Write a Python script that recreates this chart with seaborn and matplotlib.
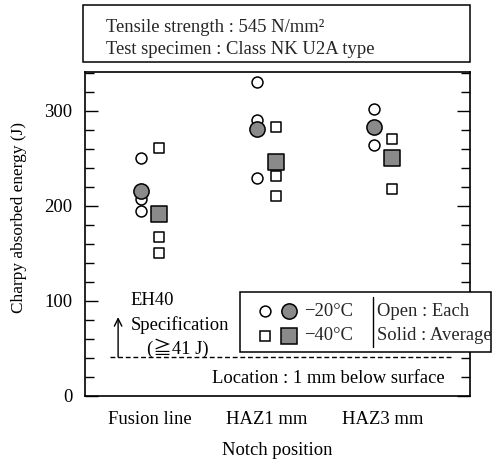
import pandas as pd
import seaborn as sns
import matplotlib.pyplot as plt
from matplotlib.lines import Line2D
from matplotlib.patches import Rectangle
from matplotlib.ticker import MultipleLocator

categories = ["Fusion line", "HAZ1 mm", "HAZ3 mm"]
each_m20 = [[251, 207, 195], [330, 291, 229], [302, 264]]
each_m40 = [[261, 167, 150], [283, 232, 210], [271, 218]]
avg_m20 = [216, 281, 283]
avg_m40 = [192, 246, 250]
spec_min = 41

rows = []
for i, cat in enumerate(categories):
    for v in each_m20[i]:
        rows.append({"pos": i - 0.08, "energy": v, "temp": "-20", "kind": "each"})
    for v in each_m40[i]:
        rows.append({"pos": i + 0.08, "energy": v, "temp": "-40", "kind": "each"})
    rows.append({"pos": i - 0.08, "energy": avg_m20[i], "temp": "-20", "kind": "avg"})
    rows.append({"pos": i + 0.08, "energy": avg_m40[i], "temp": "-40", "kind": "avg"})
df = pd.DataFrame(rows)

sns.set_theme(style="white")
plt.rcParams['font.family'] = ['Liberation Serif', 'DejaVu Serif', 'Noto Sans CJK JP']
plt.rcParams['font.size'] = 13.4

W, H = 492, 459
fig = plt.figure(figsize=(W / 100, H / 100), dpi=100)
ax = fig.add_axes([85 / W, 1 - 396 / H, 385 / W, 324 / H])

gray = '#8a8a8a'
styles = [
    ("-20", "each", 'o', 62, 'white'),
    ("-40", "each", 's', 56, 'white'),
    ("-20", "avg", 'o', 120, gray),
    ("-40", "avg", 's', 118, gray),
]
for z, (t, k, m, s, fc) in enumerate(styles):
    sub = df[(df.temp == t) & (df.kind == k)]
    sns.scatterplot(data=sub, x="pos", y="energy", marker=m, s=s, color=fc,
                    edgecolor='black', linewidth=1.1, ax=ax, zorder=3 + z, legend=False)

ax.set_xlim(-0.558, 2.747)
ax.set_ylim(0, 341)
ax.set_xticks(range(len(categories)))
ax.set_xticklabels(categories)
ax.yaxis.set_major_locator(MultipleLocator(100))
ax.yaxis.set_minor_locator(MultipleLocator(20))
ax.tick_params(axis='y', which='both', direction='in', left=True, right=True,
               colors='black', labelsize=13.4, pad=9)
ax.tick_params(axis='y', which='major', length=9.5, width=1)
ax.tick_params(axis='y', which='minor', length=6.5, width=1)
ax.tick_params(axis='x', bottom=False, labelsize=13.4, pad=5, colors='black')
for sp in ax.spines.values():
    sp.set_color('black')
    sp.set_linewidth(1.2)

ax.set_xlabel("Notch position", fontsize=13.4, labelpad=10, color='black')
ax.set_ylabel("Charpy absorbed energy (J)", fontsize=12.4, color='black')
ax.yaxis.set_label_coords(-0.15, 0.552)

# specification line
ax.axhline(spec_min, xmin=0.065, xmax=0.953, color='black', lw=1, linestyle=(0, (3.5, 2)))
trans = ax.get_yaxis_transform()
ax.annotate('', xy=(0.086, 83), xytext=(0.086, spec_min), xycoords=trans, textcoords=trans,
            arrowprops=dict(arrowstyle='->', lw=1, color='black', shrinkA=0, shrinkB=0))
ax.text(0.119, 100, "EH40", transform=trans, ha='left', va='center', color='black')
ax.text(0.247, 75, "Specification", transform=trans, ha='center', va='center', color='black')
ax.text(0.242, 50, "(\u2267" + f"{spec_min} J)", transform=trans, ha='center', va='center', color='black')
ax.text(0.935, 18, "Location : 1 mm below surface", transform=trans, ha='right', va='center',
        color='black')


def fx(px):
    return px / W


def fy(py):
    return 1 - py / H


# top info box
fig.add_artist(Rectangle((fx(83), fy(62)), fx(470) - fx(83), fy(5) - fy(62),
                         transform=fig.transFigure, fill=False, ec='black', lw=1.1))
fig.text(fx(106), fy(27), "Tensile strength : 545 N/mm\u00b2", ha='left', va='center')
fig.text(fx(106), fy(49), "Test specimen : Class NK U2A type", ha='left', va='center')

# legend box
fig.add_artist(Rectangle((fx(240), fy(352)), fx(491) - fx(240), fy(292) - fy(352),
                         transform=fig.transFigure, fill=True, fc='white', ec='black',
                         lw=1.1, zorder=10))
leg_rows = [(311, 'o', "\u221220\u00b0C", "Open : Each"),
            (336, 's', "\u221240\u00b0C", "Solid : Average")]
for py, m, lab, note in leg_rows:
    fig.add_artist(Line2D([fx(265)], [fy(py)], marker=m, ms=7.8 if m == 'o' else 7.5,
                          mfc='white', mec='black', mew=1.1, transform=fig.transFigure, zorder=11))
    fig.add_artist(Line2D([fx(289)], [fy(py)], marker=m, ms=11,
                          mfc=gray, mec='black', mew=1.1, transform=fig.transFigure, zorder=11))
    fig.text(fx(304), fy(py), lab, ha='left', va='center', zorder=11)
    fig.text(fx(377), fy(py), note, ha='left', va='center', zorder=11)
fig.add_artist(Line2D([fx(373), fx(373)], [fy(297), fy(347)], color='black', lw=1,
                      transform=fig.transFigure, zorder=11))

plt.savefig("out.png", dpi=100)
